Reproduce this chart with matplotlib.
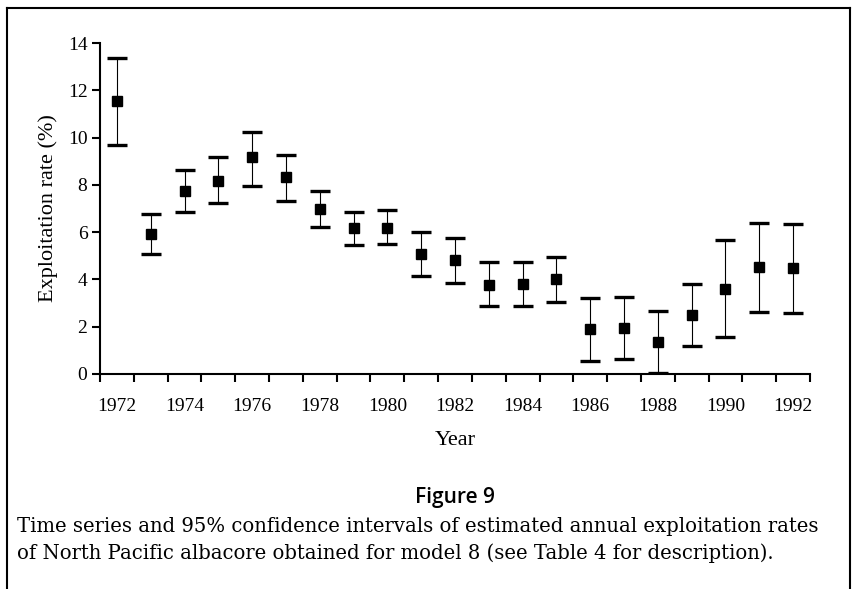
import matplotlib
matplotlib.use("Agg")
import matplotlib.pyplot as plt
from matplotlib.lines import Line2D
import numpy as np

years = list(range(1972, 1993))
rate = [11.55, 5.91, 7.73, 8.17, 9.17, 8.32, 7.00, 6.16, 6.19, 5.08, 4.81,
        3.75, 3.79, 4.02, 1.89, 1.96, 1.37, 2.50, 3.61, 4.51, 4.47]
upper = [13.35, 6.77, 8.64, 9.17, 10.25, 9.28, 7.76, 6.86, 6.93, 6.01, 5.74,
         4.72, 4.72, 4.95, 3.20, 3.24, 2.68, 3.79, 5.68, 6.37, 6.35]
lower = [9.67, 5.08, 6.84, 7.22, 7.96, 7.33, 6.23, 5.44, 5.51, 4.16, 3.85,
         2.86, 2.86, 3.06, 0.55, 0.62, 0.06, 1.20, 1.55, 2.62, 2.58]
yticks = [0, 2, 4, 6, 8, 10, 12, 14]
xlabels = [str(y) for y in years if y % 2 == 0]

W, H = 854, 589
fig = plt.figure(figsize=(W / 100, H / 100), dpi=100)
serif = ["Liberation Serif", "DejaVu Serif"]

ax = fig.add_axes([100 / W, 1 - 374 / H, 710 / W, 331 / H])
x = np.arange(len(years))
r = np.array(rate)
err = [r - np.array(lower), np.array(upper) - r]
ax.errorbar(x, r, yerr=err, fmt="s", color="black", ms=6.5, elinewidth=0.8,
            capsize=7, capthick=2.4, ecolor="black")

ax.set_xlim(-0.5, len(years) - 0.5)
ax.set_ylim(0, 14)
ax.set_xticks(np.arange(-0.5, len(years), 1.0))
ax.set_xticklabels([])
ev = [i for i, y in enumerate(years) if y % 2 == 0]
ax.set_xticks(ev, minor=True)
ax.set_xticklabels(xlabels, minor=True, fontfamily=serif, fontsize=14)
ax.tick_params(axis="x", which="minor", length=0, pad=17)
ax.tick_params(axis="x", which="major", length=6, width=1.5, direction="out")
ax.set_yticks(yticks)
ax.set_yticklabels([str(v) for v in yticks], fontfamily=serif, fontsize=14)
ax.tick_params(axis="y", length=6, width=1.5, direction="out", pad=3)
for s in ["top", "right"]:
    ax.spines[s].set_visible(False)
for s in ["left", "bottom"]:
    ax.spines[s].set_linewidth(1.5)
ax.set_ylabel("Exploitation rate (%)", fontfamily=serif, fontsize=16, labelpad=7)
ax.set_xlabel("Year", fontfamily=serif, fontsize=16, labelpad=12)

fig.text(455 / W, 1 - 497 / H, "Figure 9", ha="center", va="center",
         fontfamily=["Open Sans", "DejaVu Sans"], fontweight="semibold", fontsize=15)
fig.text(17 / W, 1 - 526 / H,
         "Time series and 95% confidence intervals of estimated annual exploitation rates",
         ha="left", va="center", fontfamily=["DejaVu Serif"], fontsize=14.1)
fig.text(17 / W, 1 - 553 / H,
         "of North Pacific albacore obtained for model 8 (see Table 4 for description).",
         ha="left", va="center", fontfamily=["DejaVu Serif"], fontsize=14.1)

fig.add_artist(Line2D([7 / W, 7 / W], [0, 1 - 8 / H], color="black", lw=1.5, transform=fig.transFigure))
fig.add_artist(Line2D([7 / W, 850 / W], [1 - 8 / H, 1 - 8 / H], color="black", lw=1.5, transform=fig.transFigure))
fig.add_artist(Line2D([850 / W, 850 / W], [0, 1 - 8 / H], color="black", lw=1.5, transform=fig.transFigure))

fig.savefig("out.png", dpi=100)
